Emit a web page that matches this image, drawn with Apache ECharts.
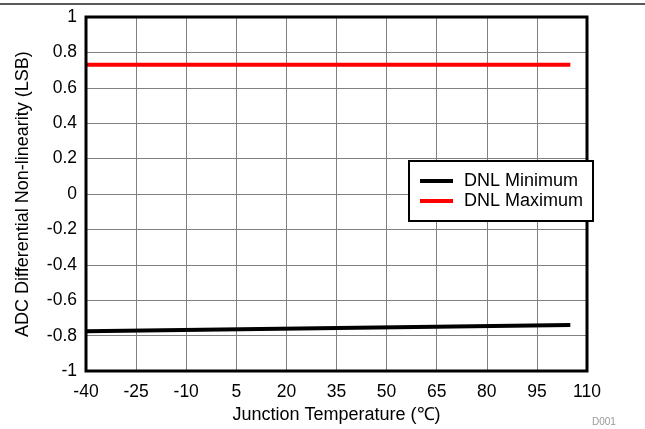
<!DOCTYPE html>
<html><head><meta charset="utf-8">
<script src="https://cdn.jsdelivr.net/npm/echarts@6/dist/echarts.min.js"></script>
<style>html,body{margin:0;padding:0;background:#fff}#c{width:645px;height:429px}</style>
</head><body><div id="c"></div>
<script>
const temps = [-40, 105];
const dnlMin = [-0.775, -0.74];
const dnlMax = [0.73, 0.73];
const seriesNames = ['DNL Minimum', 'DNL Maximum'];

const chart = echarts.init(document.getElementById('c'), null, {renderer: 'canvas'});
const F = '"Liberation Sans", Arial, sans-serif';
chart.setOption({
  animation: false,
  backgroundColor: '#fff',
  grid: {left: 86, top: 17, right: 58, bottom: 57, show: true, borderColor: '#000', borderWidth: 3, backgroundColor: 'transparent', z: 4},
  xAxis: {
    type: 'value', min: -40, max: 110, interval: 15,
    name: 'Junction Temperature (\u2103)', nameLocation: 'middle', nameGap: 30,
    nameTextStyle: {fontFamily: F, fontSize: 18, color: '#000'},
    axisLine: {show: false}, axisTick: {show: false},
    axisLabel: {fontFamily: F, fontSize: 17.5, color: '#000', margin: 12},
    splitLine: {show: true, showMinLine: false, showMaxLine: false, lineStyle: {color: '#808080', width: 1}}
  },
  yAxis: {
    type: 'value', min: -1, max: 1, interval: 0.2,
    name: 'ADC Differential Non-linearity (LSB)', nameLocation: 'middle', nameGap: 54,
    nameTextStyle: {fontFamily: F, fontSize: 18, color: '#000'},
    axisLine: {show: false}, axisTick: {show: false},
    axisLabel: {fontFamily: F, fontSize: 17.5, color: '#000', margin: 9},
    splitLine: {show: true, showMinLine: false, showMaxLine: false, lineStyle: {color: '#808080', width: 1}}
  },
  legend: {
    orient: 'vertical', left: 409, top: 161,
    data: seriesNames.map(n => ({name: n, icon: 'rect'})),
    itemWidth: 33, itemHeight: 4, itemGap: 2,
    padding: [11, 10, 11, 11],
    borderColor: '#000', borderWidth: 2, backgroundColor: '#fff', z: 10,
    textStyle: {fontFamily: F, fontSize: 18, color: '#000', padding: [0, 0, 0, 6]}
  },
  graphic: [
    {type: 'line', shape: {x1: 0, y1: 4, x2: 645, y2: 4}, style: {stroke: '#222', lineWidth: 1.5}},
    {type: 'text', left: 592, top: 417, style: {text: 'D001', fill: '#999', font: '10px ' + F}}
  ],
  series: [
    {name: seriesNames[0], type: 'line', showSymbol: false, data: temps.map((t, i) => [t, dnlMin[i]]), lineStyle: {color: '#000', width: 4}, itemStyle: {color: '#000'}, z: 3},
    {name: seriesNames[1], type: 'line', showSymbol: false, data: temps.map((t, i) => [t, dnlMax[i]]), lineStyle: {color: '#ff0000', width: 4}, itemStyle: {color: '#ff0000'}, z: 3}
  ]
});
</script></body></html>
